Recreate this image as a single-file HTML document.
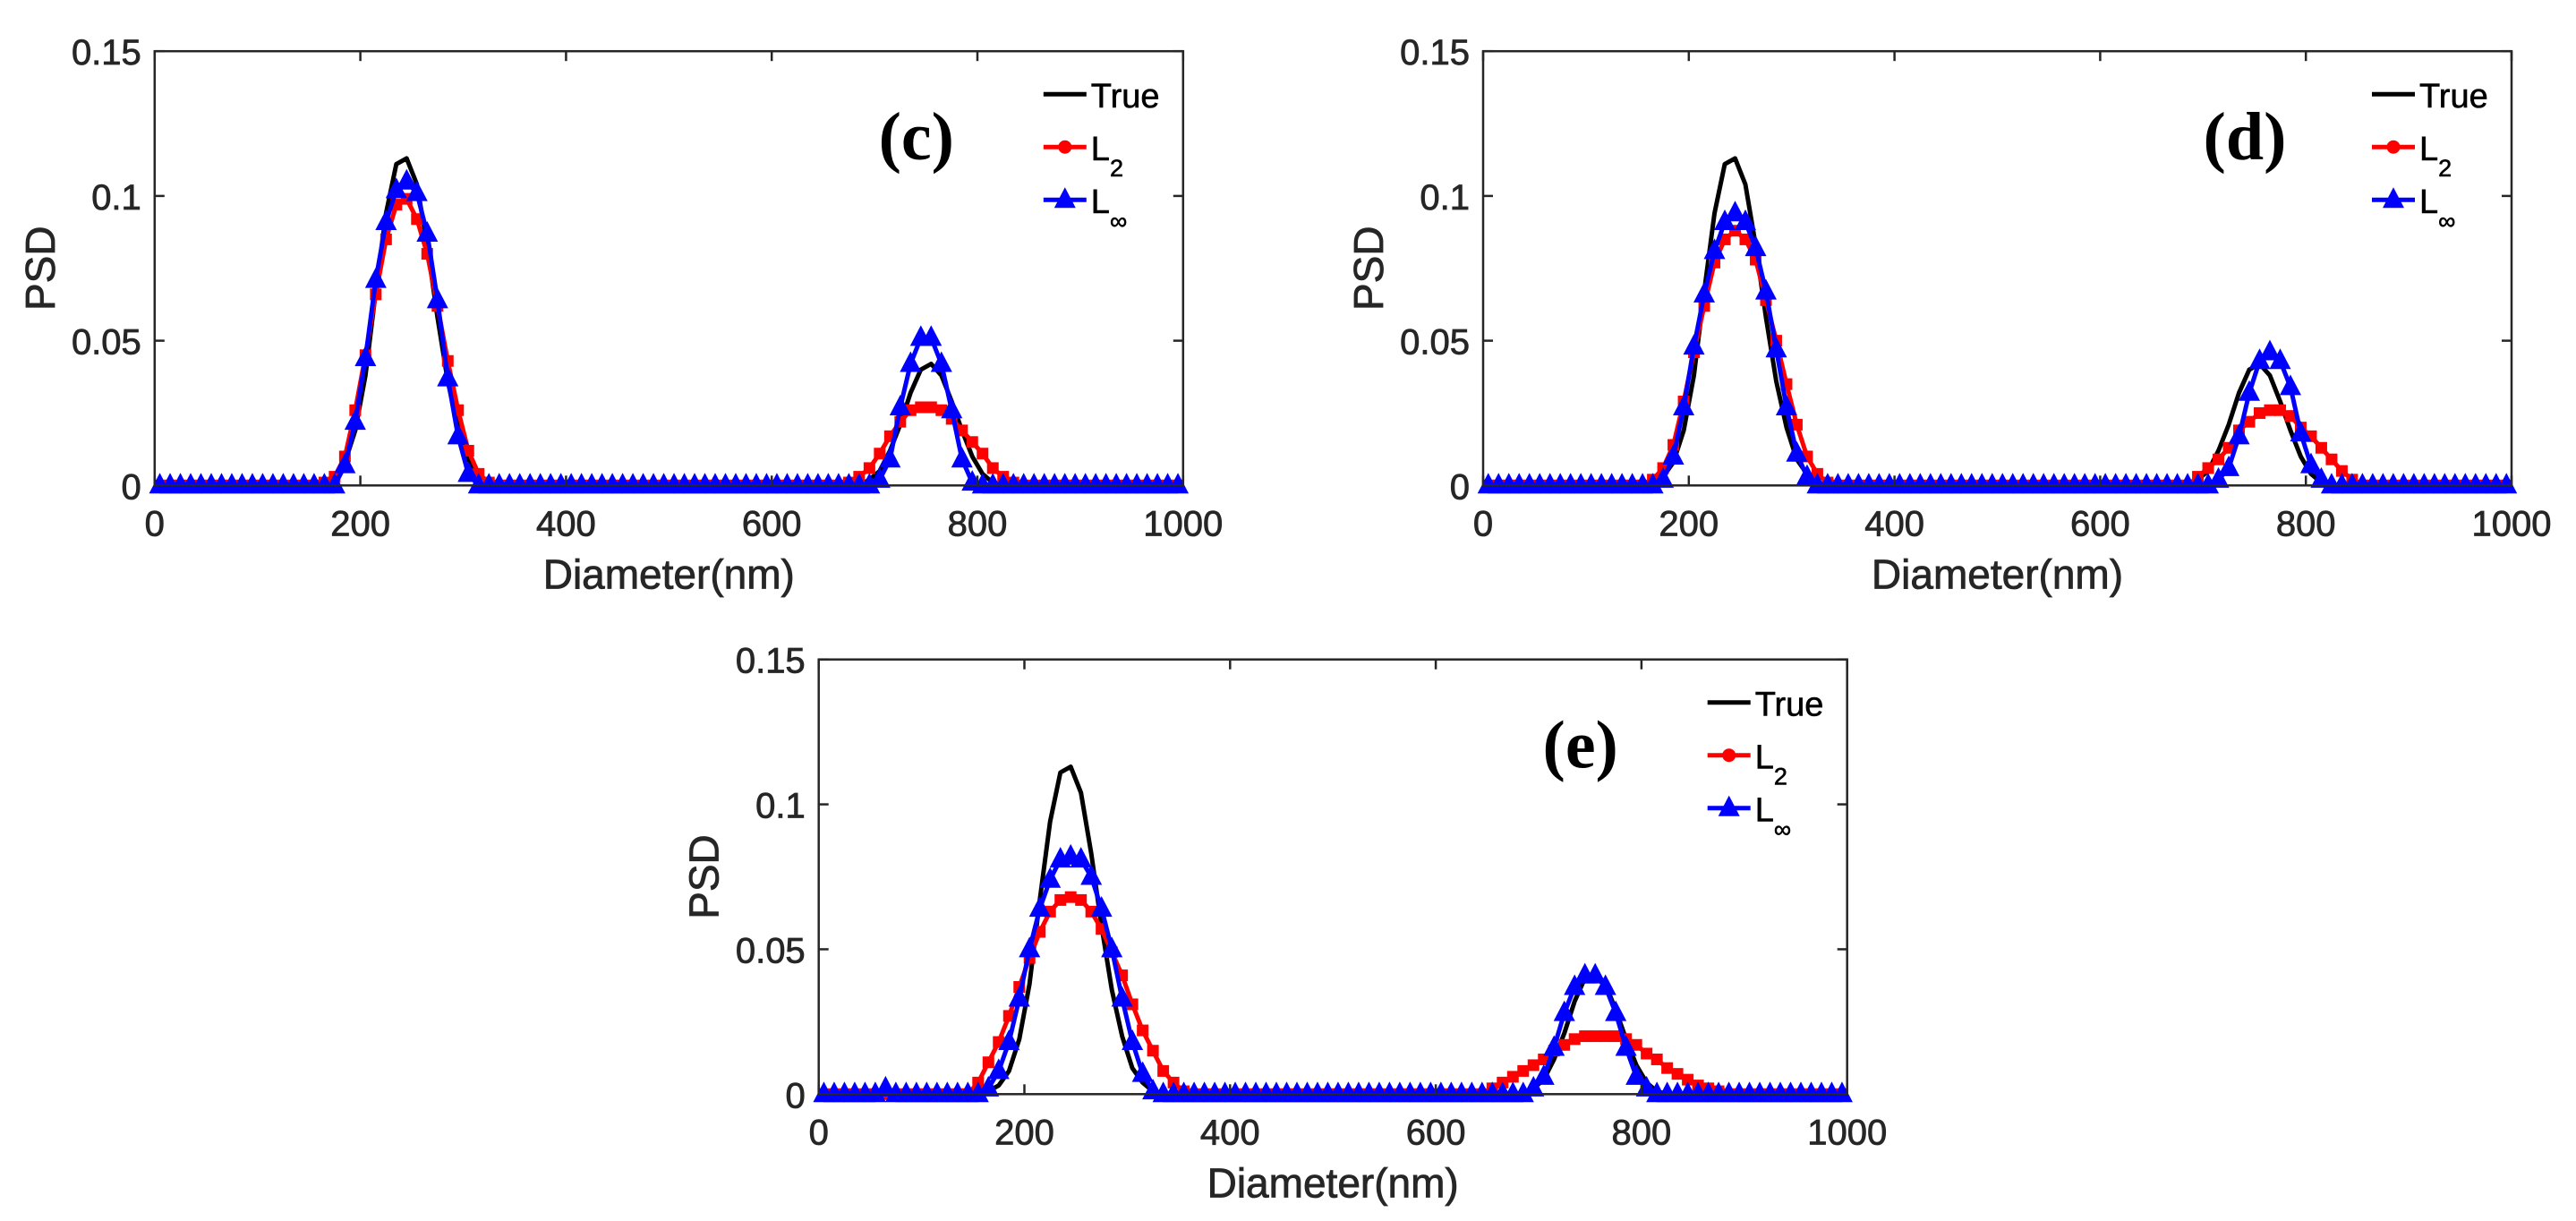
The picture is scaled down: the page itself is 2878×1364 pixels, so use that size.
<!DOCTYPE html>
<html><head><meta charset="utf-8">
<style>
html,body{margin:0;padding:0;background:#fff;}
svg{display:block;font-family:"Liberation Sans",Arial,sans-serif;}
</style></head>
<body>
<svg id="fig" width="2878" height="1364" viewBox="0 0 2878 1364" xmlns="http://www.w3.org/2000/svg"></svg>
<script>
// Diameter grid (nm)
const diameters = [5,15,25,35,45,55,65,75,85,95,105,115,125,135,145,155,165,175,185,195,205,215,225,235,245,255,265,275,285,295,305,315,325,335,345,355,365,375,385,395,405,415,425,435,445,455,465,475,485,495,505,515,525,535,545,555,565,575,585,595,605,615,625,635,645,655,665,675,685,695,705,715,725,735,745,755,765,775,785,795,805,815,825,835,845,855,865,875,885,895,905,915,925,935,945,955,965,975,985,995];
const xTicks = [0,200,400,600,800,1000];
const yTicks = [0,0.05,0.1,0.15];
const yTickLabels = ["0","0.05","0.1","0.15"];
const xTickLabels = ["0","200","400","600","800","1000"];

const trueVals = [
0,0,0,0,0,0,0,0,0,0,
0,0,0,0,0,0,0.001,0.003,0.008,0.019,
0.038,0.067,0.094,0.111,0.113,0.104,0.083,0.058,0.036,0.020,
0.009,0.004,0.001,0,0,0,0,0,0,0,
0,0,0,0,0,0,0,0,0,0,
0,0,0,0,0,0,0,0,0,0,
0,0,0,0,0,0,0,0,0,0.002,
0.005,0.012,0.021,0.032,0.040,0.042,0.038,0.029,0.019,0.010,
0.004,0.001,0,0,0,0,0,0,0,0,
0,0,0,0,0,0,0,0,0,0];

const cL2 = [
0,0,0,0,0,0,0,0,0,0,
0,0,0,0,0,0,0.001,0.003,0.010,0.026,
0.045,0.066,0.085,0.097,0.099,0.092,0.080,0.062,0.043,0.026,
0.012,0.004,0.001,0,0,0,0,0,0,0,
0,0,0,0,0,0,0,0,0,0,
0,0,0,0,0,0,0,0,0,0,
0,0,0,0,0,0,0,0.001,0.003,0.006,
0.011,0.017,0.022,0.026,0.027,0.027,0.026,0.023,0.019,0.015,
0.011,0.006,0.003,0.001,0,0,0,0,0,0,
0,0,0,0,0,0,0,0,0,0];
const cLinf = [
0,0,0,0,0,0,0,0,0,0,
0,0,0,0,0,0,0,0,0.007,0.022,
0.044,0.071,0.091,0.102,0.105,0.101,0.087,0.064,0.037,0.017,
0.004,0,0,0,0,0,0,0,0,0,
0,0,0,0,0,0,0,0,0,0,
0,0,0,0,0,0,0,0,0,0,
0,0,0,0,0,0,0,0,0,0,
0.002,0.009,0.027,0.042,0.051,0.051,0.042,0.026,0.009,0.001,
0,0,0,0,0,0,0,0,0,0,
0,0,0,0,0,0,0,0,0,0];

const dL2 = [
0,0,0,0,0,0,0,0,0,0,
0,0,0,0,0,0,0.002,0.006,0.014,0.029,
0.046,0.062,0.077,0.085,0.088,0.085,0.078,0.064,0.050,0.035,
0.021,0.010,0.004,0.001,0,0,0,0,0,0,
0,0,0,0,0,0,0,0,0,0,
0,0,0,0,0,0,0,0,0,0,
0,0,0,0,0,0,0,0,0,0.003,
0.006,0.009,0.013,0.019,0.022,0.025,0.026,0.026,0.024,0.020,
0.017,0.013,0.009,0.005,0.002,0,0,0,0,0,
0,0,0,0,0,0,0,0,0,0];
const dLinf = [
0,0,0,0,0,0,0,0,0,0,
0,0,0,0,0,0,0,0.002,0.010,0.027,
0.048,0.066,0.081,0.091,0.094,0.091,0.082,0.067,0.047,0.027,
0.011,0.003,0,0,0,0,0,0,0,0,
0,0,0,0,0,0,0,0,0,0,
0,0,0,0,0,0,0,0,0,0,
0,0,0,0,0,0,0,0,0,0,
0,0.002,0.006,0.017,0.032,0.043,0.046,0.043,0.034,0.018,
0.007,0.002,0,0,0,0,0,0,0,0,
0,0,0,0,0,0,0,0,0,0];

const eL2 = [
0,0,0,0,0,0,0,0,0,0,
0,0,0,0,0,0.004,0.011,0.018,0.027,0.037,
0.047,0.056,0.063,0.067,0.068,0.067,0.063,0.057,0.049,0.041,
0.031,0.022,0.015,0.008,0.004,0.001,0,0,0,0,
0,0,0,0,0,0,0,0,0,0,
0,0,0,0,0,0,0,0,0,0,
0,0,0,0,0,0.002,0.004,0.006,0.008,0.010,
0.012,0.015,0.017,0.019,0.020,0.020,0.020,0.020,0.019,0.017,
0.014,0.012,0.009,0.007,0.005,0.003,0.002,0.001,0,0,
0,0,0,0,0,0,0,0,0,0];
const eLinf = [
0,0,0,0,0,0,0.002,0,0,0,
0,0,0,0,0,0,0.002,0.008,0.018,0.033,
0.050,0.064,0.074,0.081,0.082,0.081,0.075,0.064,0.050,0.033,
0.018,0.007,0.001,0,0,0,0,0,0,0,
0,0,0,0,0,0,0,0,0,0,
0,0,0,0,0,0,0,0,0,0,
0,0,0,0,0,0,0,0,0,0.002,
0.006,0.016,0.028,0.037,0.041,0.041,0.037,0.028,0.016,0.006,
0.002,0,0,0,0,0,0,0,0,0,
0,0,0,0,0,0,0,0,0,0];

const NS = "http://www.w3.org/2000/svg";
const svg = document.getElementById('fig');
function mk(tag, attrs, parent){
  const e = document.createElementNS(NS, tag);
  for (const k in attrs) e.setAttribute(k, attrs[k]);
  (parent||svg).appendChild(e);
  return e;
}
const AX = "#262626";

function panel(id, L, T, W, H, l2, linf, label){
  const g = mk('g', {});
  
  
  const sx = v => L + v / 1000 * W;
  const sy = v => T + H - v / 0.15 * H;
  const series = [
    {vals: trueVals, color: '#000', name: 'true-line', marker: null},
    {vals: l2, color: '#ff0000', name: 'l2-line', marker: 'sq'},
    {vals: linf, color: '#0000ff', name: 'linf-line', marker: 'tri'}
  ];
  series.forEach(s => {
    const pts = diameters.map((d, i) => sx(d).toFixed(1) + ',' + sy(s.vals[i]).toFixed(1)).join(' ');
    const pl = mk('polyline', {points: pts, fill: 'none', stroke: s.color, 'stroke-width': 5, 'stroke-linejoin': 'round'}, g);
    
    
    if (s.marker) {
      diameters.forEach((d, i) => {
        const x = sx(d), y = sy(s.vals[i]);
        let m;
        if (s.marker === 'sq') {
          m = mk('rect', {x: x - 6.5, y: y - 6.5, width: 13, height: 13, fill: s.color}, g);
        } else {
          m = mk('polygon', {points: `${x},${y-14} ${x-12},${y+9} ${x+12},${y+9}`, fill: s.color}, g);
        }
        
        
      });
    }
  });
  const box = mk('rect', {x: L, y: T, width: W, height: H, fill: 'none', stroke: AX, 'stroke-width': 2.5}, g);
  
  
  xTicks.forEach((t, i) => {
    const x = sx(t);
    mk('line', {x1: x, y1: T + H, x2: x, y2: T + H - 11, stroke: AX, 'stroke-width': 2.5}, g);
    mk('line', {x1: x, y1: T, x2: x, y2: T + 11, stroke: AX, 'stroke-width': 2.5}, g);
    const tx = mk('text', {x: x, y: T + H + 56, 'font-size': 40, fill: AX, stroke: AX, 'stroke-width': 0.8, 'text-anchor': 'middle'}, g);
    tx.textContent = xTickLabels[i];
    
    
  });
  yTicks.forEach((t, i) => {
    const y = sy(t);
    mk('line', {x1: L, y1: y, x2: L + 11, y2: y, stroke: AX, 'stroke-width': 2.5}, g);
    mk('line', {x1: L + W, y1: y, x2: L + W - 11, y2: y, stroke: AX, 'stroke-width': 2.5}, g);
    const ty = mk('text', {x: L - 15, y: y + 15, 'font-size': 40, fill: AX, stroke: AX, 'stroke-width': 0.8, 'text-anchor': 'end'}, g);
    ty.textContent = yTickLabels[i];
    
    
  });
  const xt = mk('text', {x: L + W / 2, y: T + H + 115, 'font-size': 46, fill: AX, stroke: AX, 'stroke-width': 0.8, 'text-anchor': 'middle'}, g);
  xt.textContent = 'Diameter(nm)';
  
  
  const yx = L - 112, yy = T + H / 2;
  const yt = mk('text', {x: yx, y: yy, 'font-size': 46, fill: AX, stroke: AX, 'stroke-width': 0.8, 'text-anchor': 'middle', transform: `rotate(-90 ${yx} ${yy})`}, g);
  yt.textContent = 'PSD';
  
  
  const pl = mk('text', {x: L + 851, y: T + 121, 'font-size': 76, 'font-weight': 'bold', 'font-family': '"Liberation Serif", serif', fill: '#000', 'text-anchor': 'middle'}, g);
  pl.textContent = label;
  
  
  const lx = L + W - 156;
  const entries = [
    {c: '#000', m: null, t: 'True', sub: ''},
    {c: '#ff0000', m: 'sq', t: 'L', sub: '2'},
    {c: '#0000ff', m: 'tri', t: 'L', sub: '\u221E'}
  ];
  entries.forEach((en, k) => {
    const y = T + 48 + k * 59;
    const lg = mk('g', {}, g);
    
    
    mk('line', {x1: lx, y1: y, x2: lx + 48, y2: y, stroke: en.c, 'stroke-width': 5}, lg);
    if (en.m === 'sq') mk('circle', {cx: lx + 24, cy: y, r: 7.5, fill: en.c}, lg);
    if (en.m === 'tri') mk('polygon', {points: `${lx+24},${y-14} ${lx+12},${y+9} ${lx+36},${y+9}`, fill: en.c}, lg);
    const t = mk('text', {x: lx + 53, y: y + 15, 'font-size': 38, fill: '#000', stroke: '#000', 'stroke-width': 0.6}, lg);
    t.textContent = en.t;
    if (en.sub) {
      const s = mk('tspan', {dy: 18, 'font-size': 27}, t);
      s.textContent = en.sub;
    }
  });
}

panel('c', 172.8, 57.2, 1149, 485.1, cL2, cLinf, '(c)');
panel('d', 1657, 57.2, 1149, 485.1, dL2, dLinf, '(d)');
panel('e', 914.7, 736.7, 1149, 485.6, eL2, eLinf, '(e)');
</script>
</body></html>
